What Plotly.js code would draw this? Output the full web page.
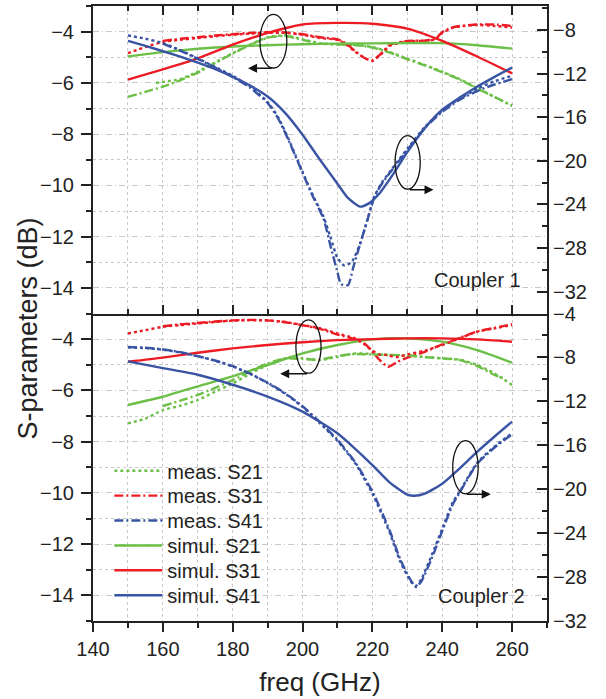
<!DOCTYPE html>
<html>
<head>
<meta charset="utf-8">
<script src="https://cdn.plot.ly/plotly-3.0.1.min.js"></script>
<style>html,body{margin:0;padding:0;background:#fff;}#chart{width:606px;height:699px;}</style>
</head>
<body>
<div id="chart"></div>
<script>
// ---------------- DATA ----------------
// Coupler 1 (top panel)
const c1_freq_sim = [150,160,170,180,190,200,210,220,230,240,250,260];
const c1_simS21 = [-4.97,-4.80,-4.67,-4.58,-4.53,-4.49,-4.47,-4.46,-4.45,-4.45,-4.53,-4.66];
const c1_simS31 = [-5.87,-5.47,-5.04,-4.51,-4.05,-3.72,-3.66,-3.69,-3.88,-4.36,-4.97,-5.63];
const c1_freq_simS41 = [150,155,160,165,170,175,180,185,190,195,200,205,210,213,216.5,219,222,226,230,235,240,245,250,255,260];
const c1_simS41 = [-9.0,-9.45,-9.95,-10.45,-11.0,-11.6,-12.3,-13.1,-14.1,-15.6,-17.6,-19.9,-22.1,-23.4,-24.2,-23.9,-23.0,-21.2,-19.2,-17.0,-15.3,-14.2,-13.2,-12.3,-11.45];

const c1_freq_measS21_dot = [158,165,170,175,180,185,190,195,200,205,210,215,220,225,230,235,240,245,250,255,260];
const c1_measS21_dot = [-6.0,-5.85,-5.56,-5.2,-4.84,-4.5,-4.22,-4.15,-4.3,-4.45,-4.5,-4.52,-4.6,-4.8,-5.05,-5.3,-5.56,-5.85,-6.2,-6.55,-6.9];
const c1_freq_measS21_dd = [150,155,160,165,170,175,180,185,190,195,200,205,210,215,220,225,230,235,240,245,250,255,260];
const c1_measS21_dd = [-6.55,-6.35,-6.15,-5.9,-5.6,-5.22,-4.86,-4.52,-4.24,-4.17,-4.32,-4.47,-4.5,-4.52,-4.62,-4.82,-5.08,-5.32,-5.58,-5.87,-6.22,-6.55,-6.88];

const c1_freq_measS31_dot = [150,155,160,165,170,175,180,185,190,195,200,205,210,212,215,218,220,222,225,230,235,238,240,243,245,250,255,260];
const c1_measS31_dot = [-4.84,-4.6,-4.4,-4.32,-4.25,-4.18,-4.12,-4.08,-4.05,-4.05,-4.12,-4.25,-4.32,-4.45,-4.78,-5.05,-5.14,-4.95,-4.55,-4.38,-4.36,-4.3,-4.05,-3.85,-3.8,-3.74,-3.78,-3.84];
const c1_freq_measS31_dd = [160,165,170,175,180,185,190,195,200,205,210,212,215,218,220,222,225,230,235,238,240,243,245,250,255,260];
const c1_measS31_dd = [-4.36,-4.28,-4.22,-4.15,-4.1,-4.05,-4.02,-4.03,-4.1,-4.22,-4.3,-4.42,-4.75,-5.05,-5.12,-4.92,-4.52,-4.36,-4.35,-4.28,-4.02,-3.83,-3.78,-3.72,-3.72,-3.78];

const c1_freq_measS41_dot = [150,155,160,165,170,175,180,185,190,193,196,198,200,203,206,208,210,212,214,216.5,218.5,220.5,222.5,225,230,235,240,245,250,255,260];
const c1_measS41_dot = [-8.5,-8.8,-9.2,-9.85,-10.6,-11.4,-12.2,-13.2,-14.6,-16.0,-18.0,-19.5,-21.0,-23.2,-25.1,-27.0,-28.9,-29.6,-29.3,-27.6,-25.5,-23.3,-22.1,-21.0,-18.9,-16.9,-15.4,-14.3,-13.4,-12.7,-12.2];
const c1_freq_measS41_dd = [160,165,170,175,180,185,190,193,196,198,200,203,206,208,210,211,213,214.5,216.5,218.5,220.5,222.5,225,230,235,240,245,250,255,260];
const c1_measS41_dd = [-9.25,-9.9,-10.65,-11.45,-12.3,-13.3,-14.7,-16.1,-18.1,-19.6,-21.1,-23.3,-25.3,-27.8,-30.2,-31.3,-31.4,-29.8,-27.6,-25.5,-23.4,-22.2,-21.1,-19.0,-17.0,-15.5,-14.4,-13.6,-13.0,-12.5];

// Coupler 2 (bottom panel)
const c2_freq_sim = [150,160,170,180,190,200,210,220,230,240,250,260];
const c2_simS21 = [-6.57,-6.25,-5.84,-5.45,-5.01,-4.56,-4.23,-4.01,-3.97,-4.1,-4.43,-4.92];
const c2_simS31 = [-4.88,-4.72,-4.53,-4.36,-4.23,-4.12,-4.04,-4.0,-3.97,-3.97,-4.01,-4.1];
const c2_freq_simS41 = [150,160,170,180,190,200,210,215,220,225,230,232,235,240,245,250,255,260];
const c2_simS41 = [-8.36,-8.97,-9.58,-10.49,-11.56,-12.93,-14.91,-16.3,-17.8,-19.4,-20.5,-20.6,-20.4,-19.5,-18.1,-16.6,-15.2,-13.85];

const c2_freq_measS21_dot = [150,155,160,165,170,175,180,185,190,195,200,205,210,215,220,225,230,235,240,245,250,255,260];
const c2_measS21_dot = [-7.29,-7.1,-6.77,-6.6,-6.38,-6.05,-5.73,-5.35,-5.01,-4.75,-4.75,-4.82,-4.69,-4.56,-4.58,-4.62,-4.65,-4.7,-4.75,-4.8,-5.01,-5.34,-5.79];
const c2_freq_measS21_dd = [160,165,170,175,180,185,190,195,200,205,210,215,220,225,230,235,240,245,250,255,258];
const c2_measS21_dd = [-6.61,-6.4,-6.18,-5.9,-5.6,-5.25,-4.95,-4.75,-4.78,-4.8,-4.66,-4.58,-4.6,-4.62,-4.63,-4.7,-4.75,-4.82,-5.05,-5.4,-5.55];

const c2_freq_measS31_dot = [150,155,160,165,170,175,180,185,190,195,200,205,210,215,218,220,222,224,227,230,235,240,245,250,255,260];
const c2_measS31_dot = [-3.78,-3.65,-3.52,-3.45,-3.39,-3.33,-3.28,-3.26,-3.27,-3.33,-3.45,-3.57,-3.78,-3.97,-4.23,-4.45,-4.6,-4.62,-4.7,-4.6,-4.45,-4.23,-3.97,-3.71,-3.58,-3.45];
const c2_freq_measS31_dd = [160,165,170,175,180,185,190,195,200,205,210,215,218,220,222,224.5,227,230,235,240,245,250,255,260];
const c2_measS31_dd = [-3.5,-3.42,-3.37,-3.31,-3.27,-3.25,-3.27,-3.34,-3.46,-3.6,-3.82,-4.0,-4.2,-4.5,-4.8,-5.08,-4.9,-4.72,-4.5,-4.2,-3.95,-3.7,-3.56,-3.42];

const c2_freq_measS41_dot = [150,155,160,165,170,175,180,185,190,195,200,205,210,215,220,225,228,231,232.5,234,237,240,243,245,250,255,260];
const c2_measS41_dot = [-7.08,-7.15,-7.29,-7.55,-7.9,-8.3,-8.82,-9.5,-10.34,-11.3,-12.5,-14.0,-15.6,-17.6,-20.4,-24.0,-26.6,-28.4,-28.8,-28.2,-26.0,-23.6,-21.2,-20.2,-17.6,-16.1,-14.9];
const c2_freq_measS41_dd = [150,155,160,165,170,175,180,185,190,195,200,205,210,215,220,225,228,231,232.5,234,237,240,243,245,250,255,260];
const c2_measS41_dd = [-7.05,-7.12,-7.27,-7.52,-7.88,-8.28,-8.8,-9.48,-10.3,-11.25,-12.45,-13.9,-15.5,-17.5,-20.2,-23.8,-26.4,-28.3,-28.9,-28.4,-26.3,-23.8,-21.4,-20.3,-17.7,-16.2,-15.0];

const seriesNames = ['meas. S21','meas. S31','meas. S41','simul. S21','simul. S31','simul. S41'];
const panelLabels = ['Coupler 1','Coupler 2'];

// ---------------- STYLE ----------------
const GREEN = '#6cbf47', RED = '#ed1c24', BLUE = '#3a54a4';
const FONT = '"Liberation Sans", Arial, sans-serif';
const DOT = 'dot';
const DASHDOT = '9px,3px,2px,3px';
const LW = 2.4;

function tr(x, y, color, dash, name, xa, ya, legendId) {
  const t = {x: x, y: y, type: 'scatter', mode: 'lines', name: name,
    line: {color: color, width: LW, dash: dash, shape: 'spline', smoothing: 0.6},
    xaxis: xa, yaxis: ya, showlegend: !!legendId, hoverinfo: 'skip'};
  if (legendId) t.legend = legendId;
  return t;
}

const traces = [
  // Bottom panel (Coupler 2) - carries the legend entries
  tr(c2_freq_measS21_dot, c2_measS21_dot, GREEN, DOT, seriesNames[0], 'x', 'y', 'legend'),
  tr(c2_freq_measS31_dd, c2_measS31_dd, RED, DASHDOT, seriesNames[1], 'x', 'y', 'legend2'),
  tr(c2_freq_measS41_dd, c2_measS41_dd, BLUE, DASHDOT, seriesNames[2], 'x', 'y2', 'legend3'),
  tr(c2_freq_sim, c2_simS21, GREEN, 'solid', seriesNames[3], 'x', 'y', 'legend4'),
  tr(c2_freq_sim, c2_simS31, RED, 'solid', seriesNames[4], 'x', 'y', 'legend5'),
  tr(c2_freq_simS41, c2_simS41, BLUE, 'solid', seriesNames[5], 'x', 'y2', 'legend6'),
  tr(c2_freq_measS21_dd, c2_measS21_dd, GREEN, DASHDOT, seriesNames[0], 'x', 'y'),
  tr(c2_freq_measS31_dot, c2_measS31_dot, RED, DOT, seriesNames[1], 'x', 'y'),
  tr(c2_freq_measS41_dot, c2_measS41_dot, BLUE, DOT, seriesNames[2], 'x', 'y2'),
  // Top panel (Coupler 1)
  tr(c1_freq_measS21_dot, c1_measS21_dot, GREEN, DOT, seriesNames[0], 'x2', 'y3'),
  tr(c1_freq_measS21_dd, c1_measS21_dd, GREEN, DASHDOT, seriesNames[0], 'x2', 'y3'),
  tr(c1_freq_measS31_dot, c1_measS31_dot, RED, DOT, seriesNames[1], 'x2', 'y3'),
  tr(c1_freq_measS31_dd, c1_measS31_dd, RED, DASHDOT, seriesNames[1], 'x2', 'y3'),
  tr(c1_freq_measS41_dot, c1_measS41_dot, BLUE, DOT, seriesNames[2], 'x2', 'y4'),
  tr(c1_freq_measS41_dd, c1_measS41_dd, BLUE, DASHDOT, seriesNames[2], 'x2', 'y4'),
  tr(c1_freq_sim, c1_simS21, GREEN, 'solid', seriesNames[3], 'x2', 'y3'),
  tr(c1_freq_sim, c1_simS31, RED, 'solid', seriesNames[4], 'x2', 'y3'),
  tr(c1_freq_simS41, c1_simS41, BLUE, 'solid', seriesNames[5], 'x2', 'y4')
];

const GRID = '#c9c9c9';
const INK = '#222';
const tickFont = {family: FONT, size: 20, color: INK};

const xCommon = {
  range: [140, 270], tick0: 140, dtick: 20, showline: true, linecolor: INK, linewidth: 2,
  ticklen: 9, tickwidth: 2, tickcolor: INK,
  showgrid: true, gridcolor: GRID, griddash: 'dot', gridwidth: 1, zeroline: false,
  minor: {dtick: 10, ticklen: 5, tickwidth: 2, tickcolor: INK, showgrid: true, gridcolor: GRID, griddash: 'dot', gridwidth: 1},
  tickfont: tickFont
};
const yLeft = {
  range: [-15, -3], tick0: -4, dtick: 2, showline: true, linecolor: INK, linewidth: 2,
  ticks: 'outside', ticklen: 10, tickwidth: 2, tickcolor: INK,
  showgrid: true, gridcolor: GRID, griddash: '6px,3px,1px,3px', gridwidth: 1, zeroline: false,
  minor: {dtick: 1, ticks: 'outside', ticklen: 5, tickwidth: 2, tickcolor: INK, showgrid: true, gridcolor: GRID, griddash: 'dot', gridwidth: 1},
  tickfont: tickFont, ticklabelstandoff: 3
};
const yRight = {
  side: 'right', showline: true, linecolor: INK, linewidth: 2,
  ticks: 'inside', ticklen: 10, tickwidth: 2, tickcolor: INK, dtick: 4,
  showgrid: false, zeroline: false,
  minor: {dtick: 2, ticks: 'inside', ticklen: 5, tickwidth: 2, tickcolor: INK, showgrid: false},
  tickfont: tickFont
};

// legend rows (one Plotly legend per row so the row pitch matches the figure)
const legendRowsPx = [470.7, 495.6, 520.5, 545.4, 570.3, 595.2];
function legendAt(ypx) {
  return {x: 0.036, y: (621 - ypx) / 615.3, xanchor: 'left', yanchor: 'middle',
    bgcolor: 'rgba(0,0,0,0)', borderwidth: 0,
    font: {family: FONT, size: 20, color: INK}, itemwidth: 48};
}

const layout = {
  width: 606, height: 699,
  margin: {l: 93, r: 59, t: 6, b: 78},
  paper_bgcolor: '#fff', plot_bgcolor: 'rgba(0,0,0,0)',
  font: {family: FONT, color: INK},
  showlegend: true,
  legend: legendAt(legendRowsPx[0]),
  legend2: legendAt(legendRowsPx[1]),
  legend3: legendAt(legendRowsPx[2]),
  legend4: legendAt(legendRowsPx[3]),
  legend5: legendAt(legendRowsPx[4]),
  legend6: legendAt(legendRowsPx[5]),
  xaxis: Object.assign({}, xCommon, {anchor: 'y', domain: [0, 1], ticks: 'outside', mirror: false,
    minor: Object.assign({}, xCommon.minor, {ticks: 'outside'}),
    title: {text: 'freq (GHz)', font: {family: FONT, size: 26, color: INK}, standoff: 14}}),
  xaxis2: Object.assign({}, xCommon, {anchor: 'y3', matches: 'x', ticks: 'inside', mirror: 'ticks', showticklabels: false,
    minor: Object.assign({}, xCommon.minor, {ticks: 'inside'})}),
  yaxis: Object.assign({}, yLeft, {domain: [0, 0.5], anchor: 'x'}),
  yaxis2: Object.assign({}, yRight, {overlaying: 'y', anchor: 'x', range: [-32, -4], tick0: -4}),
  yaxis3: Object.assign({}, yLeft, {domain: [0.5, 1], anchor: 'x2'}),
  yaxis4: Object.assign({}, yRight, {overlaying: 'y3', anchor: 'x2', range: [-34, -5.8], tick0: -8}),
  shapes: [
    {type: 'circle', xref: 'x2', yref: 'y3', x0: 187.8, x1: 195.5, y0: -5.42, y1: -3.33, line: {color: '#111', width: 1.3}},
    {type: 'circle', xref: 'x2', yref: 'y3', x0: 226.5, x1: 233.7, y0: -10.15, y1: -8.06, line: {color: '#111', width: 1.3}},
    {type: 'circle', xref: 'x', yref: 'y', x0: 198.1, x1: 205.3, y0: -5.33, y1: -3.25, line: {color: '#111', width: 1.3}},
    {type: 'circle', xref: 'x', yref: 'y', x0: 243.0, x1: 250.3, y0: -10.04, y1: -7.96, line: {color: '#111', width: 1.3}}
  ],
  annotations: [
    {xref: 'paper', yref: 'paper', x: 0.848, y: 0.554, xanchor: 'center', yanchor: 'middle', text: panelLabels[0], showarrow: false,
      font: {family: FONT, size: 20, color: INK}},
    {xref: 'paper', yref: 'paper', x: 0.855, y: 0.0406, xanchor: 'center', yanchor: 'middle', text: panelLabels[1], showarrow: false,
      font: {family: FONT, size: 20, color: INK}},
    {xref: 'paper', yref: 'paper', x: -0.144, y: 0.475, xanchor: 'center', yanchor: 'middle', text: 'S-parameters (dB)', textangle: -90, showarrow: false,
      font: {family: FONT, size: 27, color: INK}},
    // arrows
    {xref: 'x2', yref: 'y3', axref: 'x2', ayref: 'y3', x: 184.4, y: -5.43, ax: 191.6, ay: -5.43, text: '',
      showarrow: true, arrowhead: 2, arrowsize: 1.2, arrowwidth: 1.5, arrowcolor: '#111'},
    {xref: 'x2', yref: 'y3', axref: 'x2', ayref: 'y3', x: 237.5, y: -10.17, ax: 230.3, ay: -10.17, text: '',
      showarrow: true, arrowhead: 2, arrowsize: 1.2, arrowwidth: 1.5, arrowcolor: '#111'},
    {xref: 'x', yref: 'y', axref: 'x', ayref: 'y', x: 193.6, y: -5.35, ax: 201.7, ay: -5.35, text: '',
      showarrow: true, arrowhead: 2, arrowsize: 1.2, arrowwidth: 1.5, arrowcolor: '#111'},
    {xref: 'x', yref: 'y', axref: 'x', ayref: 'y', x: 253.9, y: -10.05, ax: 246.6, ay: -10.05, text: '',
      showarrow: true, arrowhead: 2, arrowsize: 1.2, arrowwidth: 1.5, arrowcolor: '#111'}
  ]
};

Plotly.newPlot('chart', traces, layout, {displayModeBar: false, staticPlot: true});
</script>
</body>
</html>
